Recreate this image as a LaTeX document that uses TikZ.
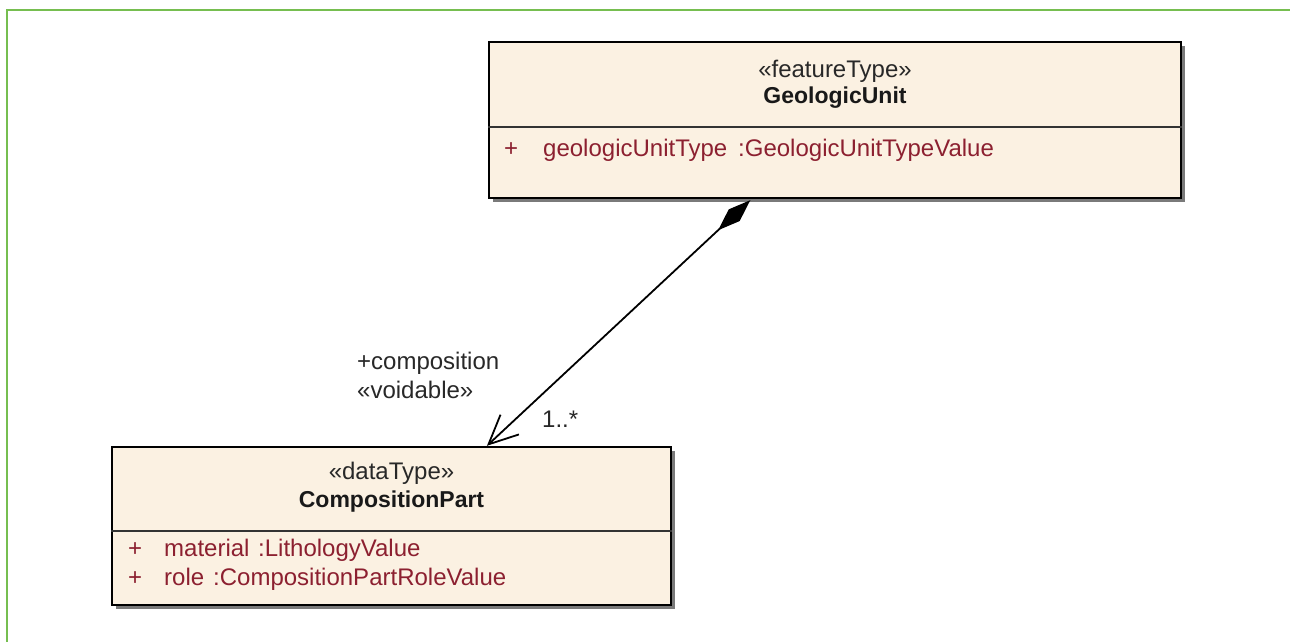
\documentclass[tikz,border=0pt]{standalone}
\usepackage{fontspec}
\setmainfont{Liberation Sans}
\usetikzlibrary{arrows.meta,shadows,calc}
\definecolor{umlfill}{RGB}{251,241,226}
\definecolor{attrred}{RGB}{140,32,48}
\definecolor{frame}{RGB}{118,190,80}
\definecolor{lbl}{RGB}{40,40,40}
\begin{document}
\begin{tikzpicture}[x=1pt,y=-1pt,
  umlbox/.style={draw=black,line width=2.4pt,fill=umlfill,inner sep=0pt,
    drop shadow={shadow xshift=4pt,shadow yshift=-4pt,fill=black!65,opacity=0.8}},
  divider/.style={draw=black!80,line width=1.4pt},
  stereo/.style={font=\fontsize{24}{28}\selectfont,text=lbl,inner sep=0pt},
  cname/.style={font=\fontsize{23}{27}\selectfont\bfseries,text=black!90,inner sep=0pt},
  attr/.style={font=\fontsize{24}{28}\selectfont,text=attrred,inner sep=0pt,anchor=west,text height=17pt,text depth=5pt},
  rolelbl/.style={font=\fontsize{24}{28}\selectfont,text=lbl,inner sep=0pt,anchor=west,text height=17pt,text depth=5pt},
  comp/.style={draw=black,line width=1.8pt,
    {Diamond[length=44pt,width=16pt,fill=black]}-{Straight Barb[length=29pt,width=27pt,line width=1.8pt]}}
]
\useasboundingbox (0,0) rectangle (1290,642);
\fill[white] (0,0) rectangle (1290,642);
% green frame
\draw[frame,line width=2pt] (7,642) -- (7,10) -- (1290,10);

% GeologicUnit
\node[umlbox,minimum width=692pt,minimum height=156pt] (gu) at (835,120) {};
\draw[divider] ($(gu.west)+(0,7)$) -- ($(gu.east)+(0,7)$);
\node[stereo] (gust) at (835,71) {«featureType»};
\node[cname] (gunm) at (835,98) {GeologicUnit};
\node[attr] (gup) at (504,150) {+};
\node[attr] (gua) at (543,150) {geologicUnitType};
\node[attr] (gut) at (738,150) {:GeologicUnitTypeValue};

% CompositionPart
\node[umlbox,minimum width=559pt,minimum height=158pt] (cp) at (391.5,526) {};
\draw[divider] ($(cp.west)+(0,5)$) -- ($(cp.east)+(0,5)$);
\node[stereo] (cpst) at (391.5,473) {«dataType»};
\node[cname] (cpnm) at (391.5,502) {CompositionPart};
\node[attr] (cpp1) at (128,550) {+};
\node[attr] (cpa1) at (164,550) {material};
\node[attr] (cpt1) at (258,550) {:LithologyValue};
\node[attr] (cpp2) at (128,579) {+};
\node[attr] (cpa2) at (164,579) {role};
\node[attr] (cpt2) at (213,579) {:CompositionPartRoleValue};

% association
\coordinate (gus) at ($(gu.south west)!0.378!(gu.south east)$);
\coordinate (cpn) at ($(cp.north west)!0.67!(cp.north east)$);
\draw[comp] ($(gus)+(0,1)$) -- (cpn);
\node[rolelbl] (role) at (357,363) {+composition};
\node[rolelbl] (void) at (357,392) {«voidable»};
\node[rolelbl] (mult) at (542,421) {1..*};
\end{tikzpicture}
\end{document}
